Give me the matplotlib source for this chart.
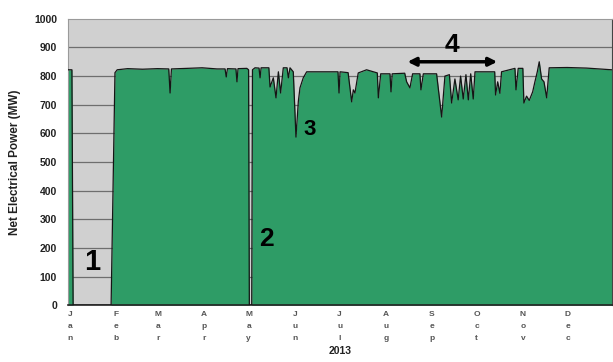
import numpy as np
import matplotlib.pyplot as plt

# day of year (2013) and net electrical power (MW)
days = [0, 2.6, 3.4, 28.9, 31.5, 33, 40, 50, 60, 67.6, 68.5, 69.4, 80, 90,
        100, 105.4, 106.2, 107, 112.7, 113.4, 114.1, 120, 121.2, 121.7, 123.3,
        123.8, 125.5, 128.2, 128.9, 129.6, 134.8, 135.6, 137.8, 139.6, 141.2,
        142.7, 144.5, 147, 147.9, 149, 151.2, 153, 154.6, 155.7, 157.9, 160.2,
        170, 181.2, 181.9, 182.6, 188, 190.4, 191.5, 192.6, 194.8, 200.4,
        207.6, 208.3, 209.9, 216.1, 216.8, 217.6, 226, 227.3, 229.5, 231.3,
        236.2, 236.9, 238.5, 247.4, 250.8, 253, 256, 257.5, 259.7, 261.9,
        263.5, 265.3, 267.1, 268.7, 270.3, 272, 273.2, 280, 286.4, 287, 288.4,
        289.9, 291, 300, 300.7, 302.2, 305.3, 306, 307.8, 309.6, 311.9, 313.4,
        315, 316.3, 317.9, 319.5, 321.3, 323, 335, 348, 365]
power = [822, 822, 0, 0, 812, 822, 826, 824, 826, 825, 741, 825, 827, 829,
         825, 825, 797, 826, 825, 780, 826, 827, 822, 0, 0,
         822, 829, 828, 794, 829, 829, 762, 794, 724, 815,
         741, 829, 829, 794, 829, 815, 587, 712, 759, 794, 815,
         815, 815, 741, 815, 812, 710, 752, 741, 811, 822,
         811, 724, 808, 808, 745, 808, 810, 780, 759, 808,
         808, 752, 808, 808, 657, 800, 805, 706, 790, 717,
         800, 720, 805, 717, 808, 720, 815, 815, 815, 734, 780,
         740, 815, 827, 752, 827, 827, 706, 730, 715, 745, 780,
         815, 850, 790, 780, 724, 829, 830, 828, 822]

month_starts = [0, 31, 59, 90, 120, 151, 181, 212, 243, 273, 304, 334]
month_names = ["Jan", "Feb", "Mar", "Apr", "May", "Jun",
               "Jul", "Aug", "Sep", "Oct", "Nov", "Dec"]
y_ticks = [0, 100, 200, 300, 400, 500, 600, 700, 800, 900, 1000]

plt.rcParams['font.family'] = ['Liberation Sans', 'DejaVu Sans']

fig = plt.figure(figsize=(6.13, 3.62), dpi=100)
ax = fig.add_axes([0.111, 0.157, 0.887, 0.791])
ax.set_facecolor('#d0d0d0')

for v in y_ticks[1:-1]:
    ax.axhline(v, color='#6e6e6e', lw=0.9, zorder=1)

ax.fill_between(days, power, 0, color='#2e9c66', zorder=2, lw=0)
ax.plot(days, power, color='#151515', lw=0.9, zorder=3)

ax.set_xlim(0, 365)
ax.set_ylim(0, 1000)
ax.set_yticks(y_ticks)
ax.set_yticklabels([str(v) for v in y_ticks], fontsize=7.5, fontweight='bold',
                   color='#222222')
ax.set_xticks([d + 1.3 for d in month_starts])
ax.set_xticklabels(["\n".join(m) for m in month_names], fontsize=6,
                   fontweight='bold', color='#555555', linespacing=2.0)
ax.tick_params(length=0, pad=4)
ax.tick_params(axis='y', pad=8)

ax.set_ylabel("Net Electrical Power (MW)", fontsize=8.5, fontweight='bold',
              color='#222222', labelpad=9)
ax.set_xlabel("2013", fontsize=7.5, fontweight='bold', color='#222222')
ax.xaxis.set_label_coords(0.5, -0.142)

for side in ['left', 'top']:
    ax.spines[side].set_color('#9a9a9a')
ax.spines['bottom'].set_color('#222222')
ax.spines['bottom'].set_linewidth(1.2)
ax.spines['right'].set_color('#444444')

# numbered callouts
ax.text(16, 152, "1", fontsize=21, fontweight='bold', ha='center',
        va='center', zorder=5)
ax.text(133, 230, "2", fontsize=19, fontweight='bold', ha='center',
        va='center', zorder=5)
ax.text(162, 615, "3", fontsize=16, fontweight='bold', ha='center',
        va='center', zorder=5)
ax.text(258, 910, "4", fontsize=19, fontweight='bold', ha='center',
        va='center', zorder=5)
ax.annotate("", xy=(226, 850), xytext=(290, 850),
            arrowprops=dict(arrowstyle='<|-|>', color='black', lw=2.5,
                            mutation_scale=12), zorder=5)

fig.savefig("out.png", dpi=100)
